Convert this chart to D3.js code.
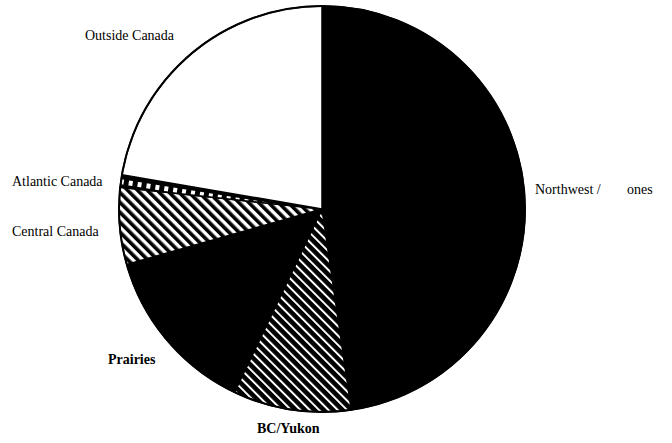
<!DOCTYPE html>
<meta charset="utf-8">
<style>
body { margin: 0; background: #fff; }
svg { display: block; background: #fff; }
.lbl { font-family: "Liberation Serif", "DejaVu Serif", serif; fill: #000; }
</style>
<body>
<div id="pie"></div>
<script src="https://d3js.org/d3.v7.min.js"></script>
<script>
// regions, clockwise from 12 o'clock (share of total, %)
var regions = ["Northwest Territories", "BC/Yukon", "Prairies", "Central Canada", "Atlantic Canada", "Outside Canada"];
var shares  = [47.7, 9.4, 13.5, 6.1, 1.0, 22.3];
var fills   = ["solid", "stripeBC", "solid", "stripeCentral", "bricks", "blank"];

var width = 672, height = 443,
    cx = 322, cy = 209, radius = 203;

var svg = d3.select("#pie").append("svg")
    .attr("width", width)
    .attr("height", height);

var defs = svg.append("defs");

// black with thin white diagonals
var p1 = defs.append("pattern")
    .attr("id", "stripeBC")
    .attr("patternUnits", "userSpaceOnUse")
    .attr("width", 6.6).attr("height", 6.6)
    .attr("patternTransform", "rotate(-45)");
p1.append("rect").attr("width", 6.6).attr("height", 6.6).attr("fill", "#000");
p1.append("rect").attr("x", 0).attr("width", 2).attr("height", 6.6).attr("fill", "#fff");

// white with black diagonals
var p2 = defs.append("pattern")
    .attr("id", "stripeCentral")
    .attr("patternUnits", "userSpaceOnUse")
    .attr("width", 7).attr("height", 7)
    .attr("patternTransform", "rotate(-45)");
p2.append("rect").attr("width", 7).attr("height", 7).attr("fill", "#fff");
p2.append("rect").attr("x", 0).attr("width", 3.6).attr("height", 7).attr("fill", "#000");

// black with small white blocks
var p3 = defs.append("pattern")
    .attr("id", "bricks")
    .attr("patternUnits", "userSpaceOnUse")
    .attr("width", 9).attr("height", 9)
    .attr("patternTransform", "rotate(9)");
p3.append("rect").attr("width", 9).attr("height", 9).attr("fill", "#000");
p3.append("rect").attr("x", 3).attr("y", 2).attr("width", 4).attr("height", 5).attr("fill", "#fff");

function fillFor(f) {
  if (f == "solid") return "#000";
  if (f == "blank") return "#fff";
  return "url(#" + f + ")";
}

var data = regions.map(function(r, i) { return {name: r, value: shares[i], fill: fills[i]}; });

var pie = d3.pie()
    .sort(null)
    .value(function(d) { return d.value; });

var arc = d3.arc()
    .innerRadius(0)
    .outerRadius(radius);

var g = svg.append("g")
    .attr("transform", "translate(" + cx + "," + cy + ")");

g.selectAll("path.slice")
  .data(pie(data))
  .enter().append("path")
    .attr("class", "slice")
    .attr("d", arc)
    .attr("fill", function(d) { return fillFor(d.data.fill); })
    .attr("stroke", "#000")
    .attr("stroke-width", 1.5)
    .attr("stroke-linejoin", "round");

g.append("circle")
    .attr("r", radius)
    .attr("fill", "none")
    .attr("stroke", "#000")
    .attr("stroke-width", 2);

// label placement (hand-set, like the original)
var labelPos = {
  "Northwest Territories": {x: 535, y: 194, bold: false},
  "BC/Yukon":              {x: 257, y: 433, bold: true},
  "Prairies":              {x: 108, y: 364, bold: true},
  "Central Canada":        {x: 12,  y: 236, bold: false},
  "Atlantic Canada":       {x: 12,  y: 186, bold: false},
  "Outside Canada":        {x: 85,  y: 40,  bold: false}
};

regions.forEach(function(r) {
  var p = labelPos[r];
  var t = svg.append("text")
      .attr("class", "lbl")
      .attr("x", p.x)
      .attr("y", p.y)
      .style("font-size", p.bold ? "14px" : "14px")
      .style("font-weight", p.bold ? "bold" : "normal");
  if (r == "Northwest Territories") {
    // the scan lost part of this label
    t.text("Northwest /");
    svg.append("text")
      .attr("class", "lbl")
      .attr("x", 627).attr("y", p.y)
      .style("font-size", "14px")
      .text("ones");
  } else {
    t.text(r);
  }
});
</script>
